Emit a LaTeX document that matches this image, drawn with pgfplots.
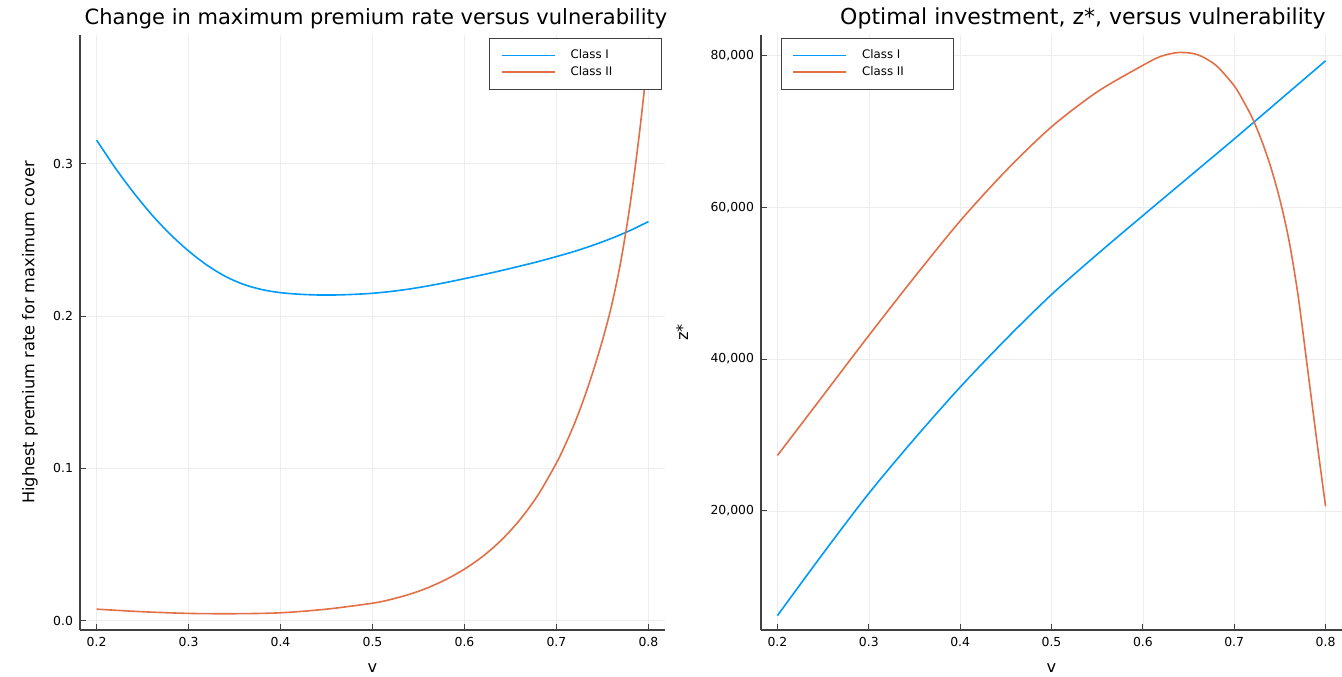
\documentclass[border=0pt]{standalone}
\usepackage{fontspec}
\setmainfont{DejaVu Sans}
\usepackage{pgfplots}
\pgfplotsset{compat=1.18}
\definecolor{c1}{RGB}{0,154,250}
\definecolor{c2}{RGB}{227,111,71}
\begin{document}
\begin{tikzpicture}
\path[use as bounding box] (0,0) rectangle (671pt,338pt);
\pgfplotsset{
  jl/.style={
    scale only axis, height=297.5pt,
    axis lines=left, axis line style={-, black!75, line width=0.55pt},
    tick align=inside, major tick length=3pt,
    tick style={black!75, line width=0.45pt},
    xtick pos=bottom, ytick pos=left,
    grid=major, grid style={black!7, line width=0.3pt},
    xmin=0.182, xmax=0.818, xtick={0.2,0.3,0.4,0.5,0.6,0.7,0.8},
    /pgf/number format/assume math mode=true,
    x tick label style={font=\fontsize{6.2}{7}\selectfont, /pgf/number format/.cd, fixed, fixed zerofill, precision=1},
    y tick label style={font=\fontsize{6.2}{7}\selectfont},
    every axis x label/.style={at={(axis description cs:0.5,0)}, anchor=center, yshift=-19pt, font=\fontsize{8.1}{9}\selectfont},
    every axis title/.style={font=\fontsize{10.5}{12}\selectfont, anchor=base, yshift=5pt},
    legend style={font=\fontsize{5.9}{6}\selectfont, draw=black!75,
      inner xsep=6pt, inner ysep=4.3pt, row sep=0pt, nodes={inner ysep=1.2pt}},
    legend cell align=left,
    every axis plot/.append style={line width=0.8pt, no marks, smooth},
  }
}
\begin{axis}[jl, at={(40pt,23pt)}, anchor=south west, width=292.5pt,
  ymin=-0.0062, ymax=0.3845, ytick={0,0.1,0.2,0.3},
  y tick label style={/pgf/number format/.cd, fixed, fixed zerofill, precision=1},
  title={Change in maximum premium rate versus vulnerability},
  title style={at={(axis description cs:0.506,1)}},
  xlabel={v}, ylabel={Highest premium rate for maximum cover},
  every axis y label/.style={at={(axis description cs:0,0.5)}, rotate=90, anchor=center, yshift=25pt, font=\fontsize{8.1}{9}\selectfont},
  legend style={at={(0.995,0.995)}, anchor=north east},
]
\addplot[draw=c1, legend image code/.code={\path[draw=none, fill=none] (0pt,0pt) -- (32.5pt,0pt); \fill[c1, draw=none] (0pt,-0.4pt) rectangle (26.5pt,0.4pt);}] table {
0.20 0.3155
0.22 0.2975
0.24 0.2812
0.26 0.2665
0.28 0.2537
0.30 0.2427
0.32 0.2334
0.34 0.2260
0.36 0.2207
0.38 0.2173
0.40 0.2153
0.42 0.2143
0.44 0.2138
0.46 0.2138
0.48 0.2142
0.50 0.2149
0.52 0.2161
0.54 0.2177
0.56 0.2197
0.58 0.2220
0.60 0.2245
0.62 0.2271
0.64 0.2298
0.66 0.2327
0.68 0.2357
0.70 0.2390
0.72 0.2425
0.74 0.2465
0.76 0.2510
0.78 0.2561
0.80 0.2620
};
\addlegendentry{\makebox[37.5pt][l]{Class I}}
\addplot[draw=c2, legend image code/.code={\path[draw=none, fill=none] (0pt,0pt) -- (32.5pt,0pt); \fill[c2, draw=none] (0pt,-0.4pt) rectangle (26.5pt,0.4pt);}] table {
0.20 0.0075
0.25 0.0058
0.30 0.0047
0.35 0.0045
0.40 0.0051
0.45 0.0075
0.50 0.0114
0.52 0.0139
0.54 0.0172
0.56 0.0215
0.58 0.0270
0.60 0.0338
0.62 0.0422
0.64 0.0528
0.66 0.0660
0.68 0.0825
0.70 0.1035
0.71 0.1160
0.72 0.1300
0.73 0.1460
0.74 0.1640
0.75 0.1840
0.76 0.2070
0.77 0.2360
0.78 0.2730
0.79 0.3190
0.80 0.3730
};
\addlegendentry{\makebox[37.5pt][l]{Class II}}
\end{axis}
\begin{axis}[jl, at={(380.5pt,23pt)}, anchor=south west, width=290.5pt,
  ymin=4300, ymax=82700, ytick={20000,40000,60000,80000},
  scaled y ticks=false,
  y tick label style={/pgf/number format/.cd, fixed, 1000 sep={,}},
  title={Optimal investment, z*, versus vulnerability},
  title style={at={(axis description cs:0.554,1)}, font=\fontsize{11}{13}\selectfont},
  xlabel={v}, ylabel={z*},
  every axis y label/.style={at={(axis description cs:0,0.5)}, rotate=90, anchor=center, yshift=39.5pt, font=\fontsize{8.1}{9}\selectfont},
  legend style={at={(0.034,0.995)}, anchor=north west},
]
\addplot[draw=c1, legend image code/.code={\path[draw=none, fill=none] (0pt,0pt) -- (32.5pt,0pt); \fill[c1, draw=none] (0pt,-0.4pt) rectangle (26.5pt,0.4pt);}] table {
0.20 6200
0.25 14400
0.30 22300
0.35 29500
0.40 36300
0.45 42600
0.50 48500
0.55 53800
0.60 58900
0.65 63950
0.70 69000
0.75 74150
0.80 79300
};
\addlegendentry{\makebox[37.5pt][l]{Class I}}
\addplot[draw=c2, legend image code/.code={\path[draw=none, fill=none] (0pt,0pt) -- (32.5pt,0pt); \fill[c2, draw=none] (0pt,-0.4pt) rectangle (26.5pt,0.4pt);}] table {
0.20 27300
0.25 35200
0.30 43100
0.35 50800
0.40 58200
0.45 64800
0.50 70600
0.55 75200
0.60 78700
0.62 79900
0.64 80400
0.66 80100
0.68 78700
0.70 76000
0.71 74000
0.72 71700
0.73 68800
0.74 65300
0.75 61000
0.76 55600
0.77 48300
0.78 39000
0.79 29600
0.80 20600
};
\addlegendentry{\makebox[37.5pt][l]{Class II}}
\end{axis}
\end{tikzpicture}
\end{document}
